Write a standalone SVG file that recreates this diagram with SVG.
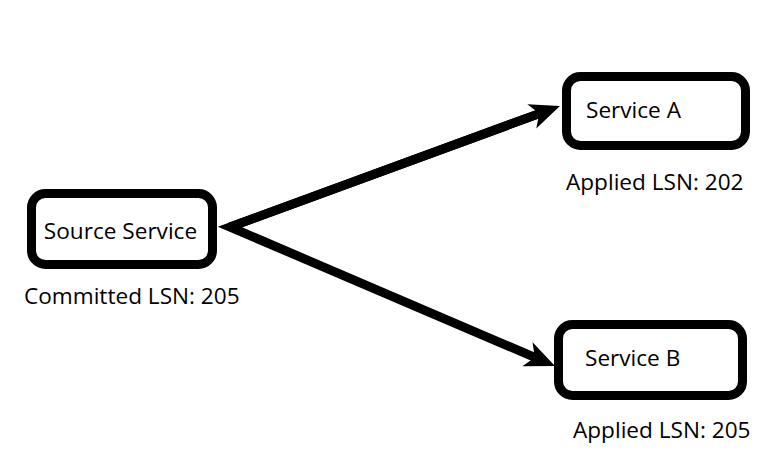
<svg xmlns="http://www.w3.org/2000/svg" width="784" height="462" viewBox="0 0 784 462">
<style>
.box{fill:#fff;stroke:#000;stroke-width:9}
.t{font-family:"Open Sans","Noto Sans",sans-serif;font-size:22.6px;fill:#000}
.edge{fill:none;stroke:#000;stroke-width:9;stroke-linecap:butt;stroke-linejoin:miter}
</style>
<defs>
<marker id="ah" markerUnits="userSpaceOnUse" markerWidth="30" markerHeight="30" viewBox="0 0 30 30" refX="8" refY="15" orient="auto" overflow="visible">
<path d="M0,2 L30,15 L0,28 L8,15 Z" fill="#000"/>
</marker>
</defs>
<rect width="784" height="462" fill="#fff"/>
<g id="edges">
<path class="edge" d="M539.3,113.6 L230,227 L534.8,357.4" marker-end="url(#ah)"/>
<path class="edge" d="M230,227 L539.3,113.6" marker-end="url(#ah)"/>
</g>
<g id="source">
<rect class="box" x="31.5" y="193.5" width="181" height="71" rx="14"/>
<text class="t" x="120.5" y="239" text-anchor="middle">Source Service</text>
<text class="t" x="24" y="304">Committed LSN: 205</text>
</g>
<g id="serviceA">
<rect class="box" x="566.5" y="76.5" width="179" height="69" rx="14"/>
<text class="t" x="586" y="118">Service A</text>
<text class="t" x="566" y="190">Applied LSN: 202</text>
</g>
<g id="serviceB">
<rect class="box" x="558.5" y="324.5" width="184" height="71" rx="14"/>
<text class="t" x="585" y="366">Service B</text>
<text class="t" x="573" y="438">Applied LSN: 205</text>
</g>
</svg>
